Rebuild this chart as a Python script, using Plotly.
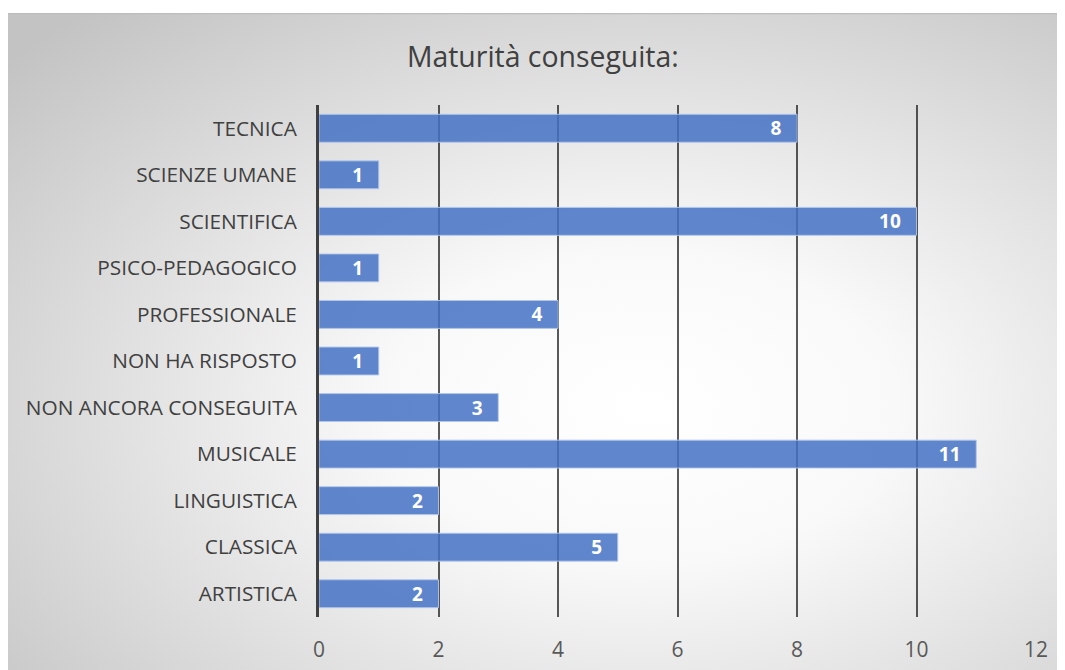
import base64
import plotly.graph_objects as go

# bottom to top, as drawn
categories = ['ARTISTICA', 'CLASSICA', 'LINGUISTICA', 'MUSICALE',
              'NON ANCORA CONSEGUITA', 'NON HA RISPOSTO', 'PROFESSIONALE',
              'PSICO-PEDAGOGICO', 'SCIENTIFICA', 'SCIENZE UMANE', 'TECNICA']
counts = [2, 5, 2, 11, 3, 1, 4, 1, 10, 1, 8]
x_ticks = [0, 2, 4, 6, 8, 10, 12]

FONT = 'Open Sans'

# radial background like the office chart style
bg_svg = """<svg xmlns='http://www.w3.org/2000/svg' width='1058' height='660' preserveAspectRatio='none'>
<defs><radialGradient id='g' cx='0.6' cy='0.6' r='0.8'>
<stop offset='0' stop-color='#ffffff'/><stop offset='0.3' stop-color='#f9f9f9'/>
<stop offset='1' stop-color='#c3c3c3'/></radialGradient></defs>
<rect x='0' y='0' width='1058' height='660' fill='url(#g)'/>
<line x1='0' y1='0.5' x2='1058' y2='0.5' stroke='#bdbdbd' stroke-width='1.5'/>
</svg>"""
bg_uri = 'data:image/svg+xml;base64,' + base64.b64encode(bg_svg.encode()).decode()

fig = go.Figure()
fig.add_trace(go.Bar(
    x=counts,
    y=categories,
    orientation='h',
    marker=dict(color='rgba(68,114,196,0.85)',
                line=dict(color='rgba(180,200,235,0.9)', width=1)),
    texttemplate='%{x}\u2002\u2009',  # a bit of room before the bar end
    textposition='inside',
    insidetextanchor='end',
    textangle=0,
    constraintext='none',
    textfont=dict(family=FONT, size=19, color='white', weight='bold'),
    cliponaxis=False,
    hoverinfo='x+y'
))

fig.update_layout(
    width=1057,
    height=662,
    margin=dict(l=311, r=29, t=97, b=53),
    paper_bgcolor='white',
    plot_bgcolor='rgba(0,0,0,0)',
    bargap=0.4,
    showlegend=False,
    font=dict(family=FONT, color='#404040'),
    title=dict(text='Maturità conseguita:', x=0.506, xref='container', xanchor='center',
               y=0.926, yref='container', yanchor='middle',
               font=dict(family=FONT, size=28.4, color='#404040')),
    images=[dict(source=bg_uri, xref='paper', yref='paper',
                 x=-0.4338, y=1.1797, sizex=1.4742, sizey=1.2832,
                 xanchor='left', yanchor='top', sizing='stretch', layer='below')],
)

fig.update_xaxes(
    range=[0, 12],
    tickvals=x_ticks,
    showgrid=True,
    gridcolor='rgba(20,20,20,0.7)',
    gridwidth=1.5,
    zeroline=False,
    showline=False,
    ticks='',
    automargin=False,
    ticklabelstandoff=18,
    tickfont=dict(family=FONT, size=21, color='#595959')
)
fig.update_yaxes(
    showline=True,
    linecolor='#404040',
    linewidth=3,
    ticks='',
    showgrid=False,
    automargin=False,
    ticklabelstandoff=15,
    tickfont=dict(family=FONT, size=20.8, color='#404040')
)

fig.write_html('out.html')
